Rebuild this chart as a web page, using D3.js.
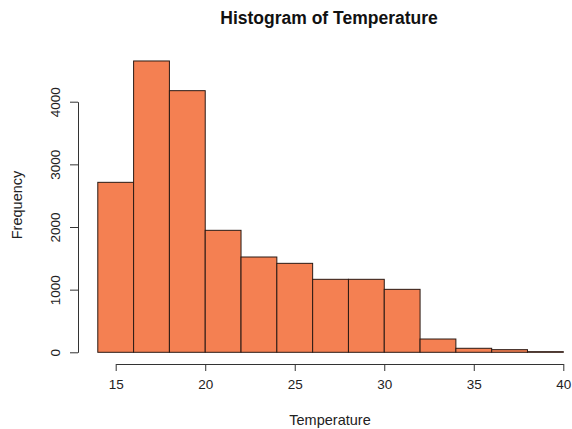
<!DOCTYPE html>
<html>
<head>
<meta charset="utf-8">
<script src="https://cdn.jsdelivr.net/npm/d3@7"></script>
<style>
  body { margin: 0; background: #fff; }
  svg { font-family: "Liberation Sans", Arial, sans-serif; }
</style>
</head>
<body>
<div id="chart"></div>
<script>
// bin edges and counts
const binStarts = [14, 16, 18, 20, 22, 24, 26, 28, 30, 32, 34, 36, 38];
const binWidth = 2;
const counts = [2713, 4650, 4176, 1947, 1521, 1420, 1165, 1165, 1005, 212, 64, 42, 10];
const xTicks = [15, 20, 25, 30, 35, 40];
const yTicks = [0, 1000, 2000, 3000, 4000];

const width = 572, height = 429;

const x = d3.scaleLinear().domain([15, 40]).range([115.7, 563.3]);
const y = d3.scaleLinear().domain([0, 4000]).range([352.3, 101.7]);

const svg = d3.select('#chart')
  .append('svg')
  .attr('width', width)
  .attr('height', height);

const bins = binStarts.map((s, i) => ({ x0: s, x1: s + binWidth, n: counts[i] }));

// bars
svg.selectAll('.bar')
  .data(bins)
  .enter()
  .append('rect')
  .attr('class', 'bar')
  .attr('x', d => x(d.x0))
  .attr('width', d => x(d.x1) - x(d.x0))
  .attr('y', d => y(d.n))
  .attr('height', d => y(0) - y(d.n))
  .attr('fill', '#f48052')
  .attr('stroke', '#2a1a14')
  .attr('stroke-width', 1);

// x axis
const xAxis = svg.append('g')
  .attr('transform', `translate(0,364)`)
  .call(d3.axisBottom(x).tickValues(xTicks).tickSize(7).tickPadding(8).tickSizeOuter(0));
xAxis.select('.domain').attr('stroke', '#333');
xAxis.selectAll('.tick line').attr('stroke', '#333');
xAxis.selectAll('text').attr('font-size', 13.5).attr('fill', '#222')
  .attr('font-family', '"Liberation Sans", Arial, sans-serif');

// y axis
const yAxis = svg.append('g')
  .attr('transform', `translate(78,0)`)
  .call(d3.axisLeft(y).tickValues(yTicks).tickFormat(d3.format('d')).tickSize(8).tickSizeOuter(0));
yAxis.select('.domain').attr('stroke', '#333');
yAxis.selectAll('.tick line').attr('stroke', '#333');
yAxis.selectAll('text')
  .attr('font-size', 13.5).attr('fill', '#222')
  .attr('font-family', '"Liberation Sans", Arial, sans-serif')
  .attr('x', null)
  .attr('text-anchor', 'middle')
  .attr('transform', 'translate(-23,0) rotate(-90)')
  .attr('dy', '0.35em');

// title
svg.append('text')
  .attr('x', 329).attr('y', 24)
  .attr('text-anchor', 'middle')
  .attr('font-size', 17.5).attr('font-weight', 'bold').attr('fill', '#111')
  .text('Histogram of Temperature');

// axis titles
svg.append('text')
  .attr('x', 330).attr('y', 425)
  .attr('text-anchor', 'middle')
  .attr('font-size', 14.5).attr('fill', '#222')
  .text('Temperature');

svg.append('text')
  .attr('transform', 'translate(22,205) rotate(-90)')
  .attr('text-anchor', 'middle')
  .attr('font-size', 14.5).attr('fill', '#222')
  .text('Frequency');
</script>
</body>
</html>
